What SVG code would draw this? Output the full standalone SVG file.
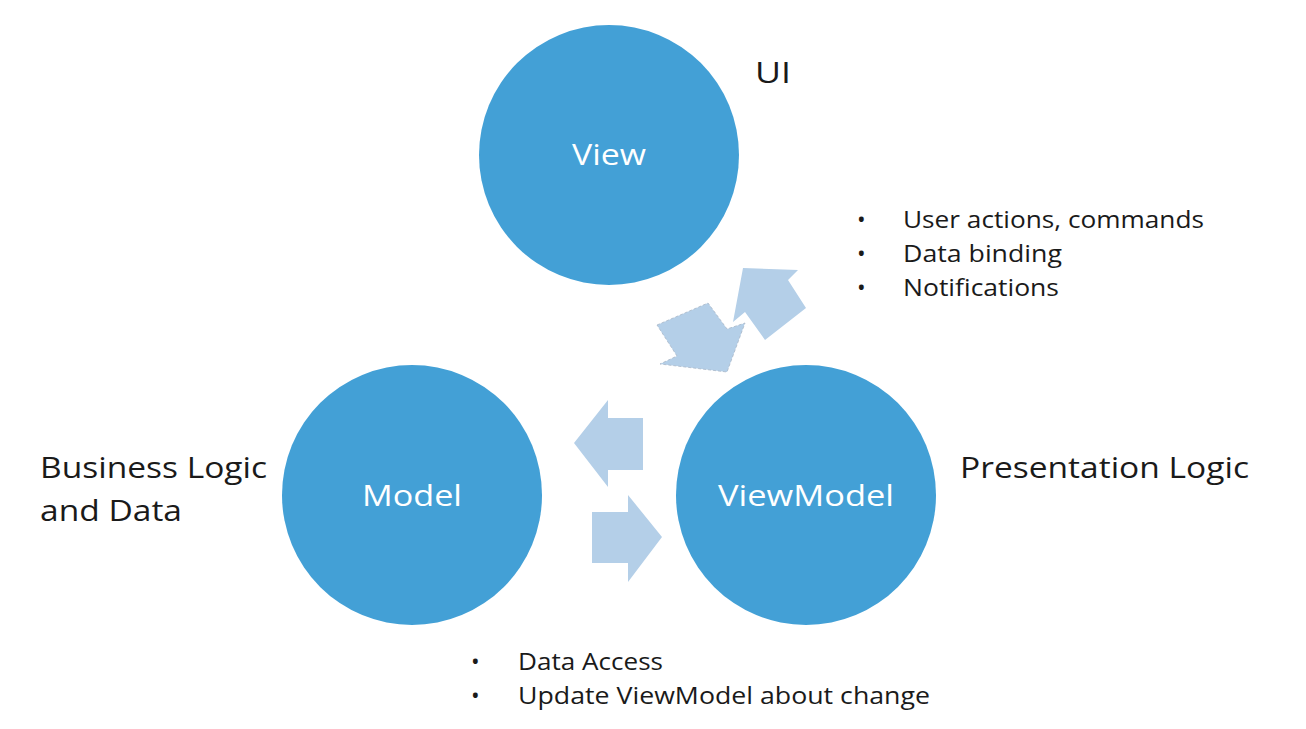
<svg xmlns="http://www.w3.org/2000/svg" width="1306" height="729" viewBox="0 0 1306 729">
<style>
.c{fill:#43a0d6}
.ct{font-family:"Open Sans","Liberation Sans",sans-serif;font-size:30px;fill:#ffffff;text-anchor:middle}
.lb{font-family:"Open Sans","Liberation Sans",sans-serif;font-size:30px;fill:#1a1a1a}
.bl{font-family:"Open Sans","Liberation Sans",sans-serif;font-size:23px;fill:#1a1a1a}
.ar{fill:#b4cfe8}
.ard{fill:#b4cfe8;stroke:#a9b8c8;stroke-width:0.8;stroke-dasharray:3 2}
</style>
<rect width="1306" height="729" fill="#ffffff"/>
<g id="connectors">
<polygon class="ar" points="743,268 798,270 788,280 806,308 765,340 745,312 733,322"/>
<polygon class="ard" points="657,325 708,303 727,329 745,323 727,372 660,364 677,356"/>
<polygon class="ar" points="574,443 608,400 608,418 643,418 643,470 608,470 608,487"/>
<polygon class="ar" points="662,537 628,495 628,512 592,512 592,563 628,563 628,582"/>
</g>
<g id="view">
<circle class="c" cx="609" cy="155" r="130"/>
<text class="ct" x="609" y="165" textLength="74" lengthAdjust="spacingAndGlyphs">View</text>
</g>
<g id="model">
<circle class="c" cx="412" cy="495" r="130"/>
<text class="ct" x="412" y="506" textLength="100" lengthAdjust="spacingAndGlyphs">Model</text>
</g>
<g id="viewmodel">
<circle class="c" cx="806" cy="495" r="130"/>
<text class="ct" x="806" y="506" textLength="176" lengthAdjust="spacingAndGlyphs">ViewModel</text>
</g>
<g id="labels">
<text class="lb" x="755" y="83" textLength="36" lengthAdjust="spacingAndGlyphs">UI</text>
<text class="lb" x="40" y="478" textLength="227" lengthAdjust="spacingAndGlyphs">Business Logic</text>
<text class="lb" x="40" y="521" textLength="142" lengthAdjust="spacingAndGlyphs">and Data</text>
<text class="lb" x="960" y="478" textLength="289" lengthAdjust="spacingAndGlyphs">Presentation Logic</text>
<text class="bl" x="857" y="228">•</text>
<text class="bl" x="903" y="228" textLength="301" lengthAdjust="spacingAndGlyphs">User actions, commands</text>
<text class="bl" x="857" y="262">•</text>
<text class="bl" x="903" y="262" textLength="159" lengthAdjust="spacingAndGlyphs">Data binding</text>
<text class="bl" x="857" y="296">•</text>
<text class="bl" x="903" y="296" textLength="156" lengthAdjust="spacingAndGlyphs">Notifications</text>
<text class="bl" x="471" y="670">•</text>
<text class="bl" x="518" y="670" textLength="145" lengthAdjust="spacingAndGlyphs">Data Access</text>
<text class="bl" x="471" y="704">•</text>
<text class="bl" x="518" y="704" textLength="412" lengthAdjust="spacingAndGlyphs">Update ViewModel about change</text>
</g>
</svg>
